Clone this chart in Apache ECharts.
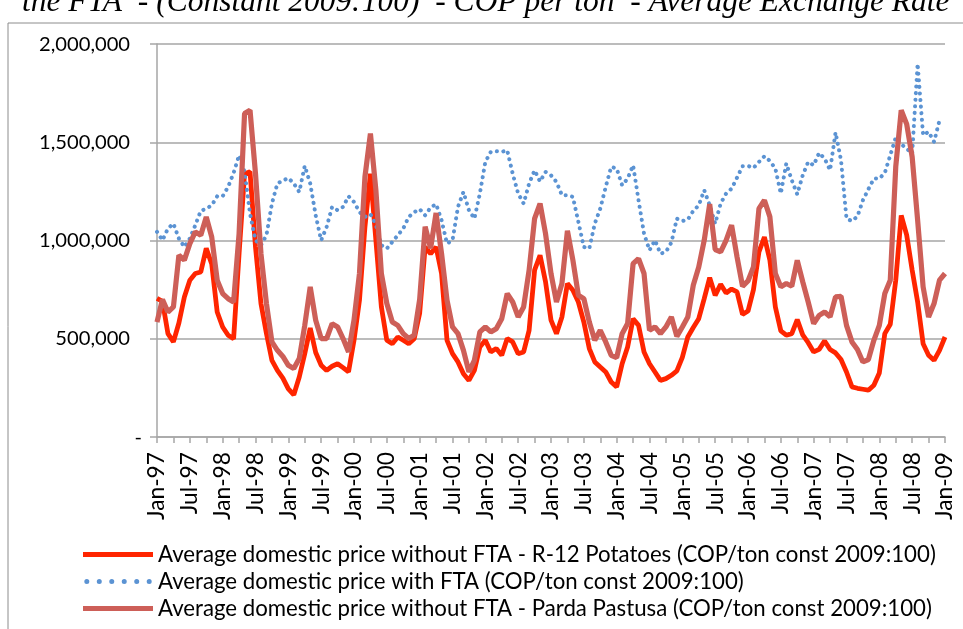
<!DOCTYPE html>
<html><head><meta charset="utf-8">
<script src="https://cdn.jsdelivr.net/npm/echarts@6/dist/echarts.min.js"></script>
<style>html,body{margin:0;padding:0;background:#fff}#c{width:963px;height:629px}</style>
</head><body><div id="c"></div>
<script>
const monthNames = ['Jan','Feb','Mar','Apr','May','Jun','Jul','Aug','Sep','Oct','Nov','Dec'];
const categories = [];
for (let y = 1997; y <= 2009; y++) {
  for (let m = 0; m < 12; m++) {
    if (y === 2009 && m > 0) break;
    categories.push(monthNames[m] + '-' + String(y % 100).padStart(2, '0'));
  }
}
const yTickLabels = ['-', '500,000', '1,000,000', '1,500,000', '2,000,000'];
const seriesNames = [
  'Average domestic price without FTA - R-12 Potatoes (COP/ton const 2009:100)',
  'Average domestic price with FTA (COP/ton const 2009:100)',
  'Average domestic price without FTA - Parda Pastusa (COP/ton const 2009:100)'
];
const titleText = 'the FTA  - (Constant 2009:100)  - COP per ton  - Average Exchange Rate';

const r12 = [705000,690000,526000,484000,580000,713000,798000,832000,840000,960000,880000,636000,
560000,518000,500000,933000,1340000,1350000,967000,679000,526000,390000,339000,300000,
245000,215000,305000,424000,555000,430000,365000,339000,360000,373000,353000,331000,
492000,696000,1069000,1340000,1001000,662000,492000,475000,509000,492000,475000,500000,
630000,967000,933000,967000,832000,492000,424000,382000,322000,288000,339000,458000,
492000,433000,450000,416000,501000,484000,424000,433000,543000,849000,925000,790000,
595000,526000,611000,781000,747000,687000,585000,450000,382000,356000,331000,280000,
255000,373000,458000,602000,568000,433000,373000,331000,288000,297000,314000,336000,
405000,509000,557000,602000,704000,811000,721000,777000,733000,753000,738000,624000,
641000,750000,942000,1018000,900000,662000,540000,518000,526000,597000,520000,480000,
433000,446000,489000,445000,428000,394000,331000,255000,248000,243000,238000,263000,
326000,526000,574000,798000,1128000,1027000,849000,687000,475000,416000,390000,441000,
509000];

const withFta = [1044000,1001000,1061000,1086000,1010000,967000,1010000,1078000,1151000,1162000,1179000,1225000,
1225000,1273000,1344000,1434000,1349000,1137000,1001000,976000,1027000,1188000,1290000,1305000,
1318000,1290000,1247000,1380000,1290000,1128000,1001000,1069000,1171000,1154000,1171000,1225000,
1196000,1145000,1120000,1134000,1081000,976000,959000,993000,1027000,1061000,1120000,1144000,
1160000,1128000,1168000,1185000,1103000,984000,1001000,1171000,1247000,1154000,1111000,1239000,
1400000,1451000,1454000,1451000,1459000,1340000,1239000,1188000,1290000,1357000,1300000,1349000,
1332000,1298000,1230000,1230000,1222000,1095000,967000,959000,1086000,1162000,1273000,1375000,
1366000,1281000,1315000,1383000,1205000,1035000,950000,1001000,933000,942000,990000,1111000,
1099000,1106000,1151000,1179000,1256000,1179000,1086000,1188000,1239000,1264000,1320000,1378000,
1380000,1369000,1400000,1429000,1405000,1366000,1239000,1392000,1307000,1235000,1332000,1400000,
1383000,1446000,1417000,1358000,1550000,1408000,1111000,1099000,1123000,1205000,1261000,1315000,
1315000,1344000,1434000,1524000,1490000,1468000,1442000,1900000,1536000,1553000,1502000,1612000,
null];

const pardaPastusa = [585000,700000,636000,662000,925000,900000,984000,1044000,1027000,1120000,1018000,798000,
730000,704000,687000,1035000,1646000,1663000,1340000,933000,679000,484000,441000,410000,
365000,348000,399000,568000,764000,594000,501000,501000,577000,560000,501000,433000,
594000,832000,1324000,1544000,1256000,832000,679000,585000,568000,526000,501000,518000,
700000,1070000,960000,1140000,933000,696000,560000,526000,441000,331000,390000,535000,
560000,535000,551000,602000,730000,687000,611000,662000,849000,1111000,1188000,1035000,
832000,687000,781000,1050000,900000,721000,704000,585000,492000,543000,484000,416000,
404000,526000,577000,882000,908000,832000,543000,560000,526000,560000,611000,512000,
560000,611000,772000,865000,1001000,1185000,954000,942000,1001000,1078000,916000,767000,
794000,865000,1162000,1205000,1120000,832000,764000,781000,767000,899000,790000,687000,
577000,619000,636000,611000,713000,716000,568000,484000,445000,382000,394000,492000,
568000,730000,798000,1375000,1663000,1592000,1425000,1103000,764000,611000,679000,798000,
832000];

// font fitting (styling only)
const FONT = 'Lato';
const ctx = document.createElement('canvas').getContext('2d');
function fit(text, family, style, target) {
  ctx.font = style + ' 100px ' + family;
  return 100 * target / ctx.measureText(text).width;
}
const legendFs = fit(seriesNames[0], '"' + FONT + '"', 'normal', 778);
const axisFs = fit('2,000,000', '"' + FONT + '"', 'normal', 91);
const xFs = fit('Jan-97', '"' + FONT + '"', 'normal', 68);
const titleFs = fit(titleText, '"Liberation Serif"', 'italic', 928);

// legend icons (styling)
function dotsPath(n, w, h, r) {
  let p = '';
  const step = (w - 2 * r) / (n - 1);
  for (let i = 0; i < n; i++) {
    const cx = r + i * step, cy = h / 2;
    p += 'M' + (cx - r) + ',' + cy + 'a' + r + ',' + r + ' 0 1,0 ' + (2 * r) + ',0a' + r + ',' + r + ' 0 1,0 ' + (-2 * r) + ',0Z';
  }
  return 'path://' + p;
}
const RED = '#FF2500', BLUE = '#5B93D3', SALMON = '#CD5F58';
const GRAY = '#A6A6A6';
const chart = echarts.init(document.getElementById('c'), null, {renderer: 'canvas'});
chart.setOption({
  animation: false,
  backgroundColor: '#fff',
  grid: {left: 157, right: 18, top: 44, bottom: 192, containLabel: false},
  graphic: [
    {type: 'rect', shape: {x: 8, y: 23, width: 1200, height: 900}, style: {fill: 'none', stroke: '#8C8C8C', lineWidth: 1}, silent: true},
    {type: 'text', x: 22, y: 13 - 0.3375 * titleFs, style: {text: titleText, font: 'italic ' + titleFs.toFixed(1) + 'px "Liberation Serif"', fill: '#000', textVerticalAlign: 'middle'}}
  ],
  legend: {
    orient: 'vertical', left: 78, top: 536,
    itemWidth: 70, itemHeight: 5, itemGap: 0,
    textStyle: {fontFamily: FONT, fontSize: legendFs, color: '#000', lineHeight: 27, padding: [0, 0, 0, 0]},
    data: [
      {name: seriesNames[0], icon: 'rect', itemStyle: {color: RED}},
      {name: seriesNames[1], icon: dotsPath(6, 62, 5, 2.3), itemStyle: {color: BLUE}},
      {name: seriesNames[2], icon: 'rect', itemStyle: {color: SALMON}}
    ]
  },
  xAxis: {
    type: 'category', data: categories, boundaryGap: false,
    axisLine: {lineStyle: {color: GRAY, width: 1.5}},
    axisTick: {show: true, interval: 2, length: 6, lineStyle: {color: GRAY, width: 1.5}},
    axisLabel: {interval: 5, rotate: 90, margin: 15, fontFamily: FONT, fontSize: xFs, color: '#000'},
    splitLine: {show: false}
  },
  yAxis: {
    type: 'value', min: 0, max: 2000000, interval: 500000,
    axisLine: {show: true, lineStyle: {color: GRAY, width: 1.5}},
    axisTick: {show: true, length: 7, lineStyle: {color: GRAY, width: 1.5}},
    splitLine: {lineStyle: {color: GRAY, width: 1.5}},
    axisLabel: {margin: 27, fontFamily: FONT, fontSize: axisFs, color: '#000',
      formatter: v => v === 0 ? '{d|' + yTickLabels[0] + '}' : yTickLabels[Math.round(v / 500000)],
      rich: {d: {fontFamily: FONT, fontSize: axisFs, color: '#000', padding: [0, -12, 0, 0]}}}
  },
  series: [
    {name: seriesNames[0], type: 'line', data: r12, symbol: 'none', z: 2,
      lineStyle: {color: RED, width: 4.8}, itemStyle: {color: RED}},
    {name: seriesNames[1], type: 'line', data: withFta, symbol: 'none', z: 3,
      lineStyle: {color: BLUE, width: 4, type: [0.1, 6.5], cap: 'round'}, itemStyle: {color: BLUE}},
    {name: seriesNames[2], type: 'line', data: pardaPastusa, symbol: 'none', z: 4,
      lineStyle: {color: SALMON, width: 5.2}, itemStyle: {color: SALMON}}
  ]
});
</script></body></html>
